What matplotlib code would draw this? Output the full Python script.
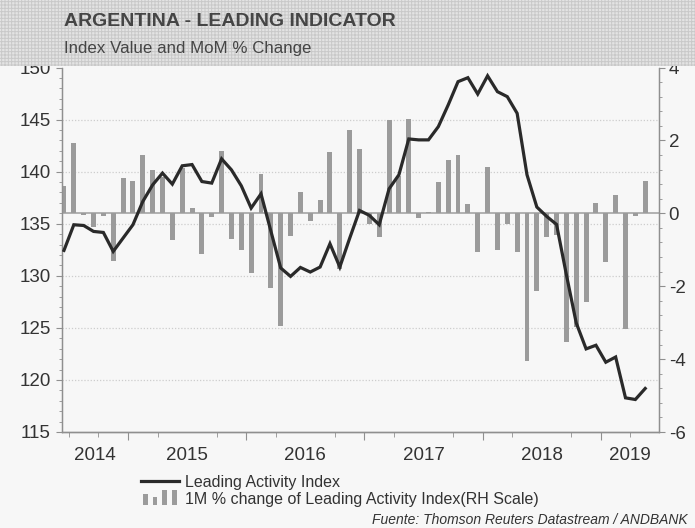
import matplotlib
matplotlib.use("Agg")
import matplotlib.pyplot as plt
import numpy as np
import pandas as pd
from matplotlib.patches import Rectangle
from matplotlib.lines import Line2D
from matplotlib.legend_handler import HandlerBase
from matplotlib.transforms import blended_transform_factory

# ---------------- data ----------------
months = pd.date_range("2014-06-01", periods=60, freq="MS").strftime("%Y-%m").tolist()

leading_index = [
    132.44, 134.90, 134.83, 134.26, 134.16, 132.34, 133.62, 134.90, 137.13, 138.73,
    139.86, 138.80, 140.56, 140.68, 139.05, 138.90, 141.23, 140.17, 138.64, 136.50,
    137.87, 134.30, 130.75, 129.94, 130.80, 130.36, 130.84, 133.08, 130.84, 133.60,
    136.27, 135.80, 134.90, 138.35, 139.70, 143.14, 143.05, 143.05, 144.32, 146.40,
    148.64, 149.02, 147.45, 149.20, 147.68, 147.20, 145.60, 139.70, 136.60, 135.70,
    134.93, 130.10, 125.47, 122.98, 123.33, 121.70, 122.20, 118.28, 118.12, 119.18,
]

mom_change = [
    0.75, 1.93, -0.05, -0.37, -0.07, -1.30, 0.97, 0.88, 1.59, 1.19,
    0.99, -0.74, 1.25, 0.15, -1.12, -0.10, 1.72, -0.70, -1.02, -1.64,
    1.08, -2.05, -3.08, -0.62, 0.58, -0.22, 0.36, 1.69, -1.53, 2.28,
    1.76, -0.30, -0.66, 2.55, 1.02, 2.58, -0.12, 0.04, 0.87, 1.47,
    1.59, 0.25, -1.05, 1.27, -1.01, -0.30, -1.05, -4.05, -2.13, -0.64,
    -0.60, -3.52, -3.13, -2.42, 0.29, -1.33, 0.50, -3.17, -0.08, 0.88,
]

year_labels = ["2014", "2015", "2016", "2017", "2018", "2019"]
left_ticks = [115, 120, 125, 130, 135, 140, 145, 150]
right_ticks = [-6, -4, -2, 0, 2, 4]

title = "ARGENTINA - LEADING INDICATOR"
subtitle = "Index Value and MoM % Change"
line_label = "Leading Activity Index"
bar_label = "1M % change of Leading Activity Index(RH Scale)"
source = "Fuente: Thomson Reuters Datastream / ANDBANK"

# ---------------- style ----------------
plt.rcParams["font.family"] = ["Liberation Sans", "DejaVu Sans"]
plt.rcParams["axes.unicode_minus"] = False
BG = "#f7f7f7"
TXT = "#333333"
BAR = "#9b9b9b"
LINE = "#2a2a2a"
SPINE = "#8f8f8f"

W, H = 695, 528
fig = plt.figure(figsize=(W / 100, H / 100), dpi=100, facecolor=BG)

# textured title band
plt.rcParams["hatch.color"] = "#c9c9c9"
plt.rcParams["hatch.linewidth"] = 0.7
band = Rectangle((0, 1 - 66 / H), 1, 66 / H, transform=fig.transFigure,
                 facecolor="#e3e3e3", edgecolor="#c9c9c9", hatch="+++++",
                 linewidth=0, zorder=0)
fig.patches.append(band)

fig.text(64 / W, 1 - 22 / H, title, fontsize=14, fontweight="bold",
         color="#454545", va="center", ha="left")
fig.text(64 / W, 1 - 48 / H, subtitle, fontsize=12.2, color="#454545",
         va="center", ha="left")

x0, x1 = 62, 659
y0, y1 = 67.5, 432
rect = [x0 / W, 1 - y1 / H, (x1 - x0) / W, (y1 - y0) / H]

ax_bar = fig.add_axes(rect)
ax_bar.set_facecolor(BG)
ax_line = ax_bar.twinx()

n = len(months)
xpos = np.arange(n) + 0.5
xlim = (0.3, 60.9)

# bars (right scale)
ax_bar.bar(xpos, mom_change, width=0.5, color=BAR, zorder=3, label=bar_label)
ax_bar.set_ylim(-6, 4)
ax_bar.set_xlim(*xlim)
ax_bar.axhline(0, color="#ababab", lw=1.3, zorder=2)

# gridlines at left-scale majors, drawn beneath bars
trans = blended_transform_factory(ax_bar.transAxes, ax_line.transData)
for g in left_ticks[1:-1]:
    ax_bar.add_line(Line2D([0, 1], [g, g], transform=trans, color="#cdcdcd",
                           lw=0.9, ls=(0, (1, 1.5)), zorder=1))

# line (left scale)
ax_line.plot(xpos, leading_index, color=LINE, lw=2.3, zorder=4,
             solid_joinstyle="miter", label=line_label)
ax_line.set_ylim(115, 150)
ax_line.set_xlim(*xlim)

# axes placement
ax_line.yaxis.tick_left()
ax_bar.yaxis.tick_right()
ax_line.set_yticks(left_ticks)
ax_line.set_yticks(np.arange(115, 151, 1), minor=True)
ax_bar.set_yticks(right_ticks)
ax_bar.set_yticks(np.arange(-6, 4.01, 0.4), minor=True)

# x axis: year labels centered on visible year span
year_starts = [-5, 7, 19, 31, 43, 55, 67]
centers = []
for i in range(len(year_labels)):
    a = max(year_starts[i], xlim[0])
    b = min(year_starts[i + 1], xlim[1])
    centers.append((a + b) / 2)
ax_bar.set_xticks(centers)
ax_bar.set_xticklabels(year_labels)
ax_bar.set_xticks(np.arange(1, 61, 3), minor=True)
ax_bar.tick_params(axis="x", which="major", length=0, pad=11,
                   labelsize=13.5, labelcolor=TXT)
ax_bar.tick_params(axis="x", which="minor", length=3.5, color=SPINE,
                   direction="out")

# longer ticks at year boundaries
sec = ax_bar.secondary_xaxis("bottom")
sec.set_xticks(year_starts[1:-1])
sec.tick_params(axis="x", which="major", length=6, color=SPINE,
                direction="out", labelbottom=False)
sec.tick_params(axis="x", which="minor", length=0)
sec.spines["bottom"].set_color(SPINE)
sec.spines["bottom"].set_linewidth(0.9)

ax_line.tick_params(axis="y", which="major", length=4, color=SPINE,
                    direction="out", pad=4, labelsize=13.5, labelcolor=TXT)
ax_line.tick_params(axis="y", which="minor", length=2.5, color=SPINE,
                    direction="out")
ax_bar.tick_params(axis="y", which="major", length=4, color=SPINE,
                   direction="out", pad=3, labelsize=13.5, labelcolor=TXT)
ax_bar.tick_params(axis="y", which="minor", length=2.5, color=SPINE,
                   direction="out")

for a in (ax_bar, ax_line):
    a.spines["top"].set_visible(False)
    for s in ("left", "right", "bottom"):
        a.spines[s].set_color(SPINE)
        a.spines[s].set_linewidth(0.9)


# legend with custom bar glyph
class BarGlyph(HandlerBase):
    def create_artists(self, legend, orig_handle, xdescent, ydescent,
                       width, height, fontsize, trans):
        arts = []
        bw = width * 0.13
        heights = [1.0, 0.7, 1.35, 1.35]
        offs = [0.05, 0.3, 0.55, 0.8]
        for k, hh in enumerate(heights):
            r = Rectangle((-xdescent + offs[k] * width, -ydescent - 1),
                          bw, height * hh, facecolor=BAR, edgecolor="none",
                          transform=trans)
            arts.append(r)
        return arts


line_handle = Line2D([], [], color=LINE, lw=2.3)
bar_handle = Rectangle((0, 0), 1, 1, facecolor=BAR)
fig.legend([line_handle, bar_handle], [line_label, bar_label],
           handler_map={Rectangle: BarGlyph()},
           loc="upper left", bbox_to_anchor=(141 / W, 1 - 475 / H),
           frameon=False, fontsize=11.5, labelcolor=TXT,
           handlelength=2.4, handletextpad=0.35, labelspacing=0.12,
           borderpad=0, borderaxespad=0)

fig.text(688 / W, 1 - 520 / H, source, fontsize=10, style="italic",
         color=TXT, ha="right", va="center")

fig.savefig("out.png", dpi=100, facecolor=BG)
